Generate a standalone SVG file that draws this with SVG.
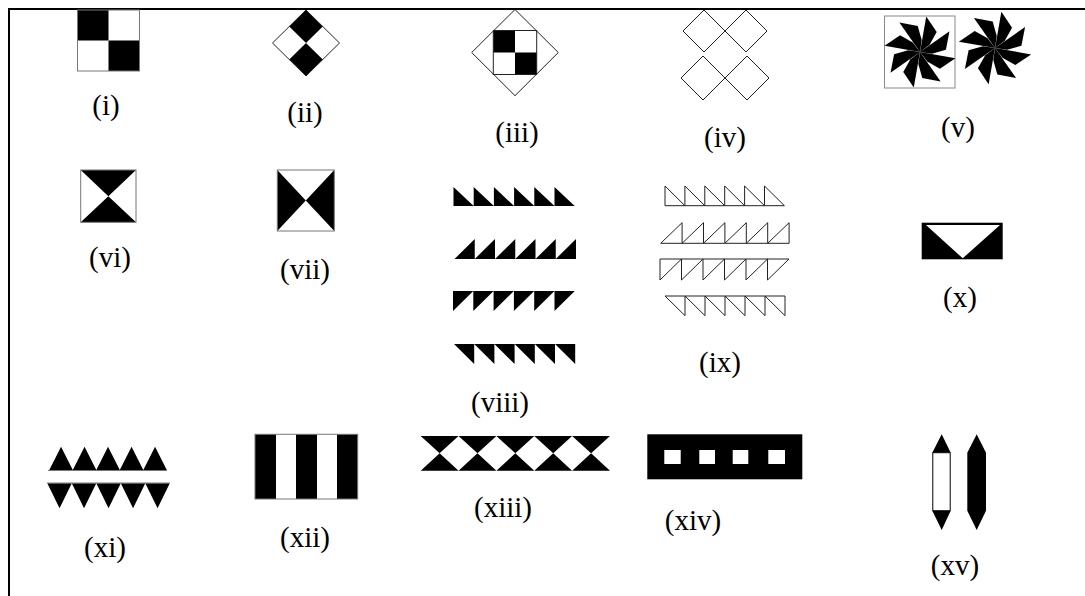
<svg xmlns="http://www.w3.org/2000/svg" width="1085" height="596" viewBox="0 0 1085 596">
<style>
.lbl{font-family:"Liberation Serif","Times New Roman",serif;font-size:29px;fill:#000;text-anchor:middle}
.blk{fill:#000}
.wht{fill:#fff}
.gout{fill:none;stroke:#777;stroke-width:1}
.bout{fill:none;stroke:#222;stroke-width:1}
</style>
<defs>
<g id="pinwheel" class="blk">
<path d="M0,0 L6.25,-35.45 L16.71,-19.92 L9.58,-7.22 Z"/>
<path d="M0,0 L29.49,-20.65 L25.90,-2.27 L11.88,1.67 Z"/>
<path d="M0,0 L35.45,6.25 L19.92,16.71 L7.22,9.58 Z"/>
<path d="M0,0 L20.65,29.49 L2.27,25.90 L-1.67,11.88 Z"/>
<path d="M0,0 L-6.25,35.45 L-16.71,19.92 L-9.58,7.22 Z"/>
<path d="M0,0 L-29.49,20.65 L-25.90,2.27 L-11.88,-1.67 Z"/>
<path d="M0,0 L-35.45,-6.25 L-19.92,-16.71 L-7.22,-9.58 Z"/>
<path d="M0,0 L-20.65,-29.49 L-2.27,-25.90 L1.67,-11.88 Z"/>
</g>
</defs>
<rect width="1085" height="596" fill="#fff"/>
<g id="frame" stroke="#000" stroke-width="2" fill="none">
<line x1="8" y1="9" x2="1085" y2="9"/>
<line x1="9" y1="8" x2="9" y2="596"/>
</g>

<g id="fig-i">
<rect x="77.5" y="10" width="62" height="61" class="wht"/>
<rect x="77.5" y="10" width="31" height="30.5" class="blk"/>
<rect x="108.5" y="40.5" width="31" height="30.5" class="blk"/>
<rect x="77.5" y="10" width="62" height="61" class="gout"/>
<text class="lbl" x="106" y="115">(i)</text>
</g>

<g id="fig-ii">
<path d="M306,10 L322.75,26.5 L306,43 L289.25,26.5 Z" class="blk"/>
<path d="M306,43 L322.75,59.5 L306,76 L289.25,59.5 Z" class="blk"/>
<path d="M306,10 L339.5,43 L306,76 L272.5,43 Z" class="bout"/>
<text class="lbl" x="305" y="122">(ii)</text>
</g>

<g id="fig-iii">
<path d="M515,9.5 L558.3,52.5 L515,95.7 L471.7,52.5 Z" class="bout"/>
<rect x="493.3" y="30.5" width="21.7" height="22" class="blk"/>
<rect x="515" y="52.5" width="21.7" height="22" class="blk"/>
<rect x="493.3" y="30.5" width="43.4" height="44" class="bout"/>
<text class="lbl" x="517" y="142">(iii)</text>
</g>

<g id="fig-iv" class="bout">
<path d="M704,10 L725,31 L704,52 L683,31 Z"/>
<path d="M746,10 L767,31 L746,52 L725,31 Z"/>
<path d="M703,56 L725,78 L703,100 L681,78 Z"/>
<path d="M747,56 L769,78 L747,100 L725,78 Z"/>
</g>
<text class="lbl" x="725" y="147">(iv)</text>

<g id="fig-v">
<rect x="884.5" y="16" width="70.5" height="72" fill="#fff" stroke="#888" stroke-width="1"/>
<use href="#pinwheel" transform="translate(920,52)"/>
<use href="#pinwheel" transform="translate(995,48) scale(1.02)"/>
<text class="lbl" x="958" y="136.5">(v)</text>
</g>

<g id="fig-vi">
<rect x="80.7" y="170" width="55.3" height="52.3" class="wht"/>
<path d="M80.7,170 H136 L108.35,196.15 Z M80.7,222.3 H136 L108.35,196.15 Z" class="blk"/>
<rect x="80.7" y="170" width="55.3" height="52.3" class="gout"/>
<text class="lbl" x="110" y="267">(vi)</text>
</g>

<g id="fig-vii">
<rect x="277.3" y="170" width="57" height="61" class="wht"/>
<path d="M277.3,170 V231 L305.8,200.5 Z M334.3,170 V231 L305.8,200.5 Z" class="blk"/>
<rect x="277.3" y="170" width="57" height="61" class="gout"/>
<text class="lbl" x="305" y="279">(vii)</text>
</g>

<g id="fig-viii" class="blk">
<path d="M453.5,187 v19 h20.2 z m20.2,0 v19 h20.2 z m20.2,0 v19 h20.2 z m20.2,0 v19 h20.2 z m20.2,0 v19 h20.2 z m20.2,0 v19 h20.2 z"/>
<path d="M454.5,259 l20.25,-20 v20 z m20.25,0 l20.25,-20 v20 z m20.25,0 l20.25,-20 v20 z m20.25,0 l20.25,-20 v20 z m20.25,0 l20.25,-20 v20 z m20.25,0 l20.25,-20 v20 z"/>
<path d="M453,291 h20.3 l-20.3,20 z m20.3,0 h20.3 l-20.3,20 z m20.3,0 h20.3 l-20.3,20 z m20.3,0 h20.3 l-20.3,20 z m20.3,0 h20.3 l-20.3,20 z m20.3,0 h20.3 l-20.3,20 z"/>
<path d="M454,344 h20.2 v20 z m20.2,0 h20.2 v20 z m20.2,0 h20.2 v20 z m20.2,0 h20.2 v20 z m20.2,0 h20.2 v20 z m20.2,0 h20.2 v20 z"/>
<text class="lbl" x="500" y="412">(viii)</text>
</g>

<g id="fig-ix">
<path class="bout" d="M665,186 v19.7 h19.9 z m19.9,0 v19.7 h19.9 z m19.9,0 v19.7 h19.9 z m19.9,0 v19.7 h19.9 z m19.9,0 v19.7 h19.9 z m19.9,0 v19.7 h19.9 z"/>
<path class="bout" d="M660.7,243.3 l21.4,-20.6 v20.6 z m21.4,0 l21.4,-20.6 v20.6 z m21.4,0 l21.4,-20.6 v20.6 z m21.4,0 l21.4,-20.6 v20.6 z m21.4,0 l21.4,-20.6 v20.6 z m21.4,0 l21.4,-20.6 v20.6 z"/>
<path class="bout" d="M660,259 h21.5 l-21.5,21 z m21.5,0 h21.5 l-21.5,21 z m21.5,0 h21.5 l-21.5,21 z m21.5,0 h21.5 l-21.5,21 z m21.5,0 h21.5 l-21.5,21 z m21.5,0 h21.5 l-21.5,21 z"/>
<path class="bout" d="M665,296 h20 v19.7 z m20,0 h20 v19.7 z m20,0 h20 v19.7 z m20,0 h20 v19.7 z m20,0 h20 v19.7 z m20,0 h20 v19.7 z"/>
<text class="lbl" x="720" y="372">(ix)</text>
</g>

<g id="fig-x">
<rect x="921.7" y="222.7" width="81" height="36.6" class="blk"/>
<path d="M926,225 H1000 L962.7,258.3 Z" class="wht"/>
<text class="lbl" x="960" y="307">(x)</text>
</g>

<g id="fig-xi">
<path class="blk" d="M49.3,470 l11.75,-23.3 l11.75,23.3 z m23.5,0 l11.75,-23.3 l11.75,23.3 z m23.5,0 l11.75,-23.3 l11.75,23.3 z m23.5,0 l11.75,-23.3 l11.75,23.3 z m23.5,0 l11.75,-23.3 l11.75,23.3 z"/>
<line x1="48" y1="470.5" x2="167" y2="470.5" stroke="#777" stroke-width="1"/>
<path class="blk" d="M47.3,483.3 h24.5 l-12.25,25 z m24.5,0 h24.5 l-12.25,25 z m24.5,0 h24.5 l-12.25,25 z m24.5,0 h24.5 l-12.25,25 z m24.5,0 h24.5 l-12.25,25 z"/>
<line x1="47" y1="483" x2="170" y2="483" stroke="#777" stroke-width="1"/>
<text class="lbl" x="105" y="557">(xi)</text>
</g>

<g id="fig-xii">
<rect x="255" y="434.3" width="102.7" height="64.7" class="wht"/>
<rect x="255" y="434.3" width="21" height="64.7" class="blk"/>
<rect x="296" y="434.3" width="21" height="64.7" class="blk"/>
<rect x="337" y="434.3" width="20.7" height="64.7" class="blk"/>
<rect x="255" y="434.3" width="102.7" height="64.7" class="gout"/>
<text class="lbl" x="305" y="547">(xii)</text>
</g>

<g id="fig-xiii" class="blk">
<path d="M420.7,436 h37.86 l-18.93,17.35 z m37.86,0 h37.86 l-18.93,17.35 z m37.86,0 h37.86 l-18.93,17.35 z m37.86,0 h37.86 l-18.93,17.35 z m37.86,0 h37.86 l-18.93,17.35 z"/>
<path d="M420.7,470.7 h37.86 l-18.93,-17.35 z m37.86,0 h37.86 l-18.93,-17.35 z m37.86,0 h37.86 l-18.93,-17.35 z m37.86,0 h37.86 l-18.93,-17.35 z m37.86,0 h37.86 l-18.93,-17.35 z"/>
<text class="lbl" x="503" y="517">(xiii)</text>
</g>

<g id="fig-xiv">
<rect x="647.3" y="434.3" width="155" height="45" class="blk"/>
<rect x="664.3" y="450" width="16.4" height="14" class="wht"/>
<rect x="699.3" y="450" width="15.7" height="14" class="wht"/>
<rect x="732.7" y="450" width="15.6" height="14" class="wht"/>
<rect x="768.3" y="450" width="16.7" height="14" class="wht"/>
<text class="lbl" x="693" y="530">(xiv)</text>
</g>

<g id="fig-xv">
<path d="M932.3,452.7 L941.7,434.3 L950.7,452.7 Z M932.3,510.7 L950.7,510.7 L941.7,530 Z" class="blk"/>
<rect x="932.8" y="452.7" width="17.4" height="58" fill="#fff" stroke="#000" stroke-width="1"/>
<path d="M967.3,452.7 L976.7,434.3 L986,452.7 L986,510.7 L976.7,530 L967.3,510.7 Z" class="blk"/>
<text class="lbl" x="955" y="575">(xv)</text>
</g>
</svg>
